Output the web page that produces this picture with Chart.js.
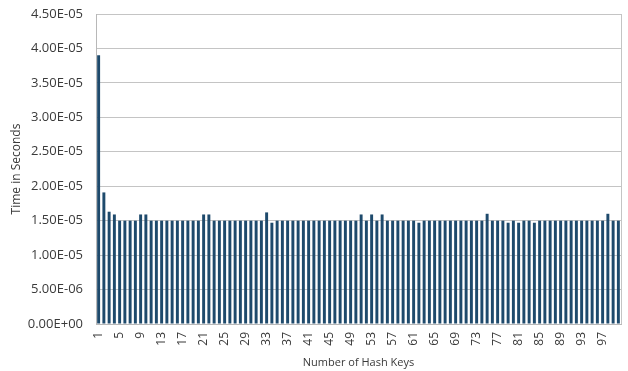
<!DOCTYPE html>
<html>
<head>
<meta charset="utf-8">
<script src="https://cdn.jsdelivr.net/npm/chart.js@4"></script>
<style>
  html, body { margin: 0; padding: 0; background: #ffffff; }
  #wrap { width: 628px; height: 371px; }
</style>
</head>
<body>
<div id="wrap"><canvas id="chart" width="628" height="371"></canvas></div>
<script>
// Number of hash keys: 1 .. 100
const hashKeys = [
  1, 2, 3, 4, 5, 6, 7, 8, 9, 10,
  11, 12, 13, 14, 15, 16, 17, 18, 19, 20,
  21, 22, 23, 24, 25, 26, 27, 28, 29, 30,
  31, 32, 33, 34, 35, 36, 37, 38, 39, 40,
  41, 42, 43, 44, 45, 46, 47, 48, 49, 50,
  51, 52, 53, 54, 55, 56, 57, 58, 59, 60,
  61, 62, 63, 64, 65, 66, 67, 68, 69, 70,
  71, 72, 73, 74, 75, 76, 77, 78, 79, 80,
  81, 82, 83, 84, 85, 86, 87, 88, 89, 90,
  91, 92, 93, 94, 95, 96, 97, 98, 99, 100
];

// Lookup time in seconds for each key count
const timeSeconds = [
  3.90e-5, 1.91e-5, 1.63e-5, 1.59e-5, 1.50e-5, 1.50e-5, 1.50e-5, 1.50e-5, 1.59e-5, 1.59e-5,
  1.50e-5, 1.50e-5, 1.50e-5, 1.50e-5, 1.50e-5, 1.50e-5, 1.50e-5, 1.50e-5, 1.50e-5, 1.50e-5,
  1.59e-5, 1.59e-5, 1.50e-5, 1.50e-5, 1.50e-5, 1.50e-5, 1.50e-5, 1.50e-5, 1.50e-5, 1.50e-5,
  1.50e-5, 1.50e-5, 1.62e-5, 1.47e-5, 1.50e-5, 1.50e-5, 1.50e-5, 1.50e-5, 1.50e-5, 1.50e-5,
  1.50e-5, 1.50e-5, 1.50e-5, 1.50e-5, 1.50e-5, 1.50e-5, 1.50e-5, 1.50e-5, 1.50e-5, 1.50e-5,
  1.59e-5, 1.50e-5, 1.59e-5, 1.50e-5, 1.59e-5, 1.50e-5, 1.50e-5, 1.50e-5, 1.50e-5, 1.50e-5,
  1.50e-5, 1.47e-5, 1.50e-5, 1.50e-5, 1.50e-5, 1.50e-5, 1.50e-5, 1.50e-5, 1.50e-5, 1.50e-5,
  1.50e-5, 1.50e-5, 1.50e-5, 1.50e-5, 1.60e-5, 1.50e-5, 1.50e-5, 1.50e-5, 1.47e-5, 1.50e-5,
  1.47e-5, 1.50e-5, 1.50e-5, 1.47e-5, 1.50e-5, 1.50e-5, 1.50e-5, 1.50e-5, 1.50e-5, 1.50e-5,
  1.50e-5, 1.50e-5, 1.50e-5, 1.50e-5, 1.50e-5, 1.50e-5, 1.50e-5, 1.60e-5, 1.50e-5, 1.50e-5
];

// Value-axis tick positions
const yTicks = [0, 5e-6, 1e-5, 1.5e-5, 2e-5, 2.5e-5, 3e-5, 3.5e-5, 4e-5, 4.5e-5];

// Show every fourth key label: 1, 5, 9, ...
const xLabelStep = 4;

// Scientific notation with a two-digit exponent, e.g. 4.50E-05
function sci(v) {
  if (v === 0) return '0.00E+00';
  const [m, e] = v.toExponential(2).split('e');
  const n = parseInt(e, 10);
  const sign = n < 0 ? '-' : '+';
  return m + 'E' + sign + String(Math.abs(n)).padStart(2, '0');
}

// Frame the right edge of the plot area
const plotFrame = {
  id: 'plotFrame',
  afterDraw(chart) {
    const { ctx, chartArea: a } = chart;
    ctx.save();
    ctx.strokeStyle = '#c4c4c4';
    ctx.lineWidth = 1;
    ctx.beginPath();
    ctx.moveTo(Math.round(a.right) + 0.5, a.top);
    ctx.lineTo(Math.round(a.right) + 0.5, a.bottom);
    ctx.stroke();
    ctx.restore();
  }
};

const FONT = '"Open Sans", "DejaVu Sans", sans-serif';
const TEXT = '#3a3a3a';

new Chart(document.getElementById('chart'), {
  type: 'bar',
  data: {
    labels: hashKeys,
    datasets: [{
      data: timeSeconds,
      backgroundColor: '#1e4a6c',
      borderWidth: 0,
      categoryPercentage: 1.0,
      barPercentage: 0.56
    }]
  },
  options: {
    responsive: false,
    animation: false,
    layout: { padding: { top: 14, right: 7, left: 0, bottom: 0 } },
    plugins: { legend: { display: false }, tooltip: { enabled: false } },
    scales: {
      x: {
        grid: { display: false, drawTicks: false },
        border: { display: true, color: '#b8b8b8' },
        ticks: {
          autoSkip: false,
          minRotation: 90,
          maxRotation: 90,
          padding: 8,
          color: TEXT,
          font: { family: FONT, size: 12 },
          callback: (val, i) => (i % xLabelStep === 0 ? String(hashKeys[i]) : '')
        },
        title: {
          display: true,
          text: 'Number of Hash Keys',
          color: TEXT,
          font: { family: FONT, size: 11 },
          padding: { top: 0, bottom: 2 }
        },
        afterFit(scale) {
          scale.height = 47;
          scale.paddingLeft = 0;
          scale.paddingRight = 0;
        }
      },
      y: {
        min: 0,
        max: 4.5e-5,
        grid: { color: '#c4c4c4', drawTicks: false },
        border: { display: true, color: '#b8b8b8' },
        ticks: {
          padding: 13,
          color: TEXT,
          font: { family: FONT, size: 13 },
          callback: (v) => sci(v)
        },
        afterBuildTicks(scale) { scale.ticks = yTicks.map(v => ({ value: v })); },
        title: {
          display: true,
          text: 'Time in Seconds',
          color: TEXT,
          font: { family: FONT, size: 12 },
          padding: { top: 9, bottom: 0 }
        },
        afterFit(scale) {
          scale.width = 96;
          scale.paddingTop = 0;
          scale.paddingBottom = 0;
        }
      }
    }
  },
  plugins: [plotFrame]
});
</script>
</body>
</html>
